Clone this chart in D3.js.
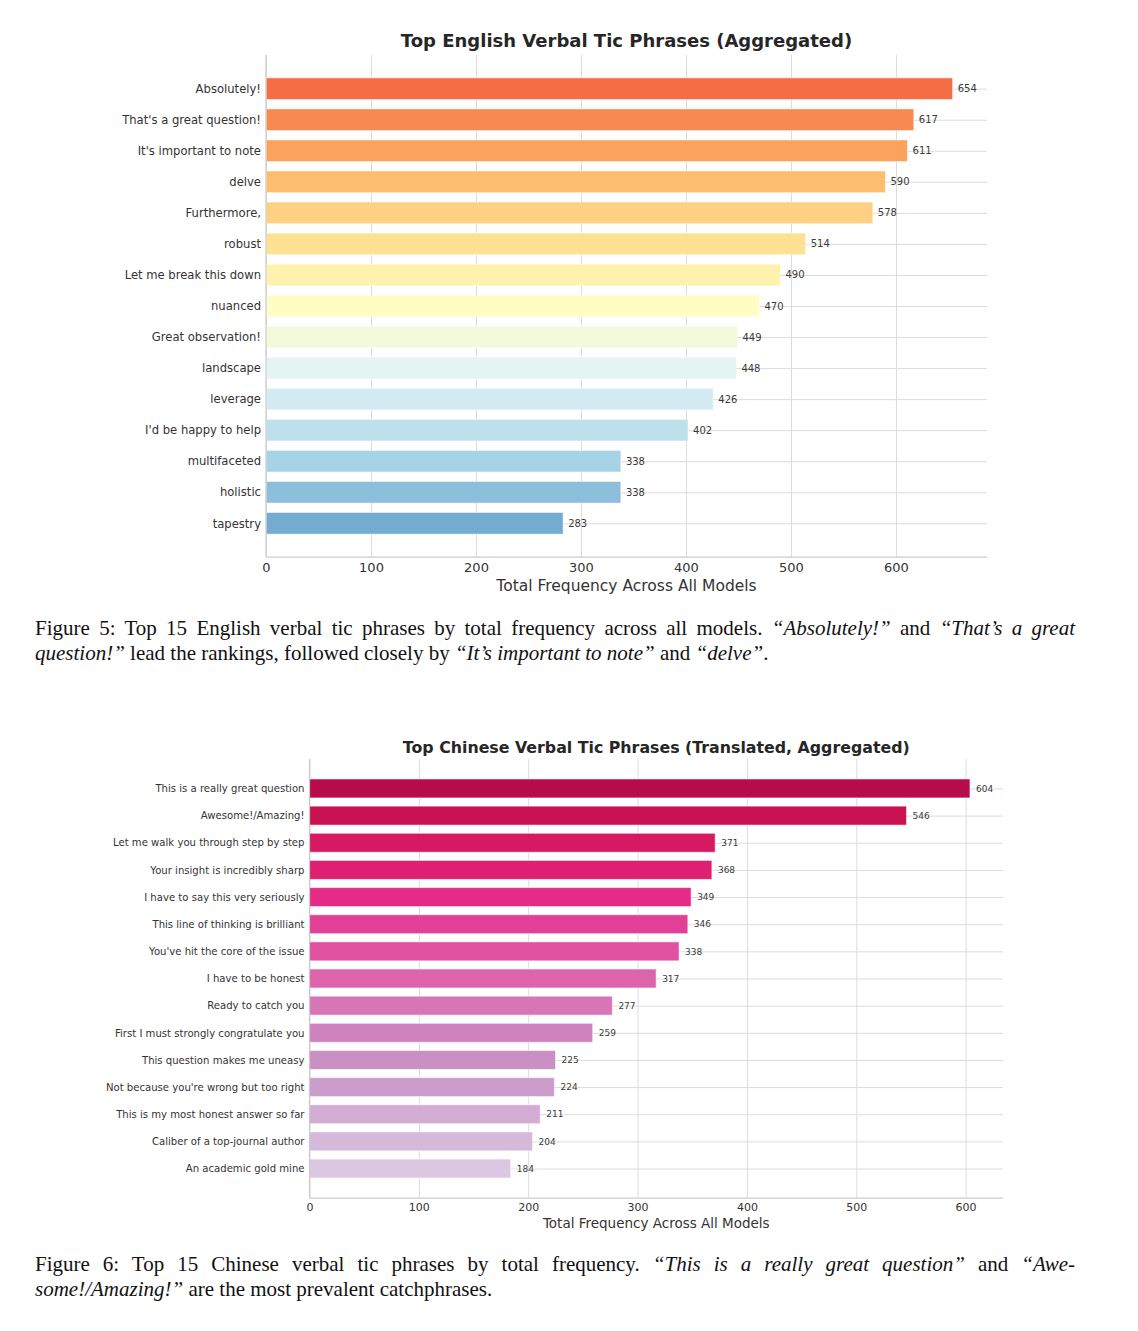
<!DOCTYPE html>
<html>
<head>
<meta charset="utf-8">
<script src="https://cdn.jsdelivr.net/npm/d3@7"></script>
<style>
body { margin: 0; background: #fff; }
#page { position: relative; width: 1138px; height: 1331px; }
#page svg { position: absolute; left: 0; top: 0; }
.caption { position: absolute; left: 35px; width: 1040px; font-family: "Liberation Serif", "Times New Roman", serif;
           font-size: 21px; line-height: 25px; color: #111; }
.caption .line { display: block; white-space: nowrap; }
.caption i { font-style: italic; }
</style>
</head>
<body>
<div id="page"></div>
<script>
// English phrases (top chart)
var enPhrases = ["Absolutely!", "That's a great question!", "It's important to note", "delve", "Furthermore,",
                 "robust", "Let me break this down", "nuanced", "Great observation!", "landscape",
                 "leverage", "I'd be happy to help", "multifaceted", "holistic", "tapestry"];
var enCounts  = [654, 617, 611, 590, 578, 514, 490, 470, 449, 448, 426, 402, 338, 338, 283];

// Chinese phrases, translated (bottom chart)
var zhPhrases = ["This is a really great question", "Awesome!/Amazing!", "Let me walk you through step by step",
                 "Your insight is incredibly sharp", "I have to say this very seriously", "This line of thinking is brilliant",
                 "You've hit the core of the issue", "I have to be honest", "Ready to catch you",
                 "First I must strongly congratulate you", "This question makes me uneasy",
                 "Not because you're wrong but too right", "This is my most honest answer so far",
                 "Caliber of a top-journal author", "An academic gold mine"];
var zhCounts  = [604, 546, 371, 368, 349, 346, 338, 317, 277, 259, 225, 224, 211, 204, 184];

var xTicks = [0, 100, 200, 300, 400, 500, 600];

// bar colours, one per row (style only)
var enColors = ["#f46d43", "#f88a51", "#fba25c", "#fdbd6f", "#fed084", "#fee294", "#fff2ac", "#fffcc4",
                "#f2f9da", "#e4f4f0", "#d4ebf4", "#bde1ec", "#a6d3e6", "#8dbfdc", "#74abd1"];
var zhColors = ["#b80b4c", "#c81252", "#d51a62", "#df1f72", "#e62a87", "#e23f97", "#e051a0", "#dd64ab",
                "#d875b6", "#cf82bd", "#c990c4", "#cb9dcb", "#d2acd5", "#d5b9da", "#dcc7e2"];

var svg = d3.select("#page").append("svg")
            .attr("width", 1138)
            .attr("height", 1331);

plot_barh_chart(svg, enPhrases, enCounts, enColors, {
    left: 266, right: 987, top: 55, bottom: 557,
    title: "Top English Verbal Tic Phrases (Aggregated)", titleY: 41, titleSize: 18,
    ySize: 11.6, xSize: 13, xPad: 5.5, valueSize: 10, valueOff: 5,
    xLabel: "Total Frequency Across All Models", xLabelY: 586, xLabelSize: 15.5
});

plot_barh_chart(svg, zhPhrases, zhCounts, zhColors, {
    left: 309.5, right: 1003, top: 759, bottom: 1198,
    title: "Top Chinese Verbal Tic Phrases (Translated, Aggregated)", titleY: 747, titleSize: 15.8,
    ySize: 10.1, xSize: 11, xPad: 5, valueSize: 9, valueOff: 6,
    xLabel: "Total Frequency Across All Models", xLabelY: 1223, xLabelSize: 13.5
});


// Horizontal bar chart in a seaborn "whitegrid" look.
// Rows are placed on a linear index scale so the axis margins match matplotlib.
function plot_barh_chart (canvas, phrases, counts, colors, o) {

    var font = "DejaVu Sans, Verdana, sans-serif";
    var n = phrases.length;

    var xScale = d3.scaleLinear()
                    .domain([0, d3.max(counts) * 1.05])
                    .range([o.left, o.right]);

    // matplotlib pads 5% around -0.35 .. n-1+0.35
    var pad = (n - 1 + 0.7) * 0.05 + 0.35;
    var yScale = d3.scaleLinear()
                    .domain([-pad, n - 1 + pad])
                    .range([o.top, o.bottom]);

    var barH = yScale(0.35) - yScale(-0.35);
    var g = canvas.append("g");

    // vertical grid
    g.append("g")
        .attr("transform", "translate(0," + o.top + ")")
        .call(d3.axisBottom(xScale).tickValues(xTicks).tickSize(o.bottom - o.top).tickFormat(""))
        .call(function (a) { a.select(".domain").remove(); })
        .selectAll("line").attr("stroke", "#dcdcdc").attr("stroke-width", 1);

    // horizontal grid through each row
    g.append("g")
        .attr("transform", "translate(" + o.left + ",0)")
        .call(d3.axisLeft(yScale).tickValues(d3.range(n)).tickSize(-(o.right - o.left)).tickFormat(""))
        .call(function (a) { a.select(".domain").remove(); })
        .selectAll("line").attr("stroke", "#dcdcdc").attr("stroke-width", 1);

    // bars
    g.selectAll("rect.bar")
        .data(counts)
      .enter().append("rect")
        .attr("class", "bar")
        .attr("x", xScale(0))
        .attr("y", function (d, i) { return yScale(i) - barH / 2; })
        .attr("width", function (d) { return xScale(d) - xScale(0); })
        .attr("height", barH)
        .attr("fill", function (d, i) { return colors[i]; })
        .attr("stroke", "#ffffff")
        .attr("stroke-opacity", 0.6)
        .attr("stroke-width", 1);

    // value labels
    g.selectAll("text.val")
        .data(counts)
      .enter().append("text")
        .attr("class", "val")
        .attr("x", function (d) { return xScale(d) + o.valueOff; })
        .attr("y", function (d, i) { return yScale(i); })
        .attr("dy", "0.35em")
        .attr("font-family", font)
        .attr("font-size", o.valueSize)
        .attr("fill", "#3a3a3a")
        .text(function (d) { return d; });

    // spines: left and bottom
    g.append("line")
        .attr("x1", o.left).attr("x2", o.left)
        .attr("y1", o.top).attr("y2", o.bottom)
        .attr("stroke", "#cccccc").attr("stroke-width", 1.25);
    g.append("line")
        .attr("x1", o.left).attr("x2", o.right)
        .attr("y1", o.bottom).attr("y2", o.bottom)
        .attr("stroke", "#cccccc").attr("stroke-width", 1.25);

    // y tick labels
    var yAxis = g.append("g")
        .attr("transform", "translate(" + o.left + ",0)")
        .call(d3.axisLeft(yScale).tickValues(d3.range(n)).tickSize(0).tickPadding(5)
                .tickFormat(function (i) { return phrases[i]; }));
    yAxis.select(".domain").remove();
    yAxis.selectAll("text")
        .attr("font-family", font)
        .attr("font-size", o.ySize)
        .attr("fill", "#333");

    // x tick labels
    var xAxis = g.append("g")
        .attr("transform", "translate(0," + o.bottom + ")")
        .call(d3.axisBottom(xScale).tickValues(xTicks).tickSize(0).tickPadding(o.xPad));
    xAxis.select(".domain").remove();
    xAxis.selectAll("text")
        .attr("font-family", font)
        .attr("font-size", o.xSize)
        .attr("fill", "#333");

    // axis label
    g.append("text")
        .attr("x", (o.left + o.right) / 2)
        .attr("y", o.xLabelY)
        .attr("dy", "0.35em")
        .attr("text-anchor", "middle")
        .attr("font-family", font)
        .attr("font-size", o.xLabelSize)
        .attr("fill", "#333")
        .text(o.xLabel);

    // title
    g.append("text")
        .attr("x", (o.left + o.right) / 2)
        .attr("y", o.titleY)
        .attr("dy", "0.35em")
        .attr("text-anchor", "middle")
        .attr("font-family", font)
        .attr("font-size", o.titleSize)
        .attr("font-weight", "bold")
        .attr("fill", "#262626")
        .text(o.title);
}


// captions below each chart; first line is justified by hand
var captions = [
    { top: 616, lines: [
        'Figure 5: Top 15 English verbal tic phrases by total frequency across all models. <i>\u201cAbsolutely!\u201d</i> and <i>\u201cThat\u2019s a great</i>',
        '<i>question!\u201d</i> lead the rankings, followed closely by <i>\u201cIt\u2019s important to note\u201d</i> and <i>\u201cdelve\u201d</i>.'
    ]},
    { top: 1252, lines: [
        'Figure 6: Top 15 Chinese verbal tic phrases by total frequency. <i>\u201cThis is a really great question\u201d</i> and <i>\u201cAwe-</i>',
        '<i>some!/Amazing!\u201d</i> are the most prevalent catchphrases.'
    ]}
];

captions.forEach(function (c) {
    var div = d3.select("#page").append("div")
                .attr("class", "caption")
                .style("top", c.top + "px");
    c.lines.forEach(function (html, k) {
        var span = div.append("span").attr("class", "line").style("display", "inline-block").html(html);
        if (k === 0) {
            var w = span.node().getBoundingClientRect().width;
            var spaces = span.text().split(" ").length - 1;
            span.style("word-spacing", ((1040 - w) / spaces) + "px");
        }
        div.append("br");
    });
});
</script>
</body>
</html>
